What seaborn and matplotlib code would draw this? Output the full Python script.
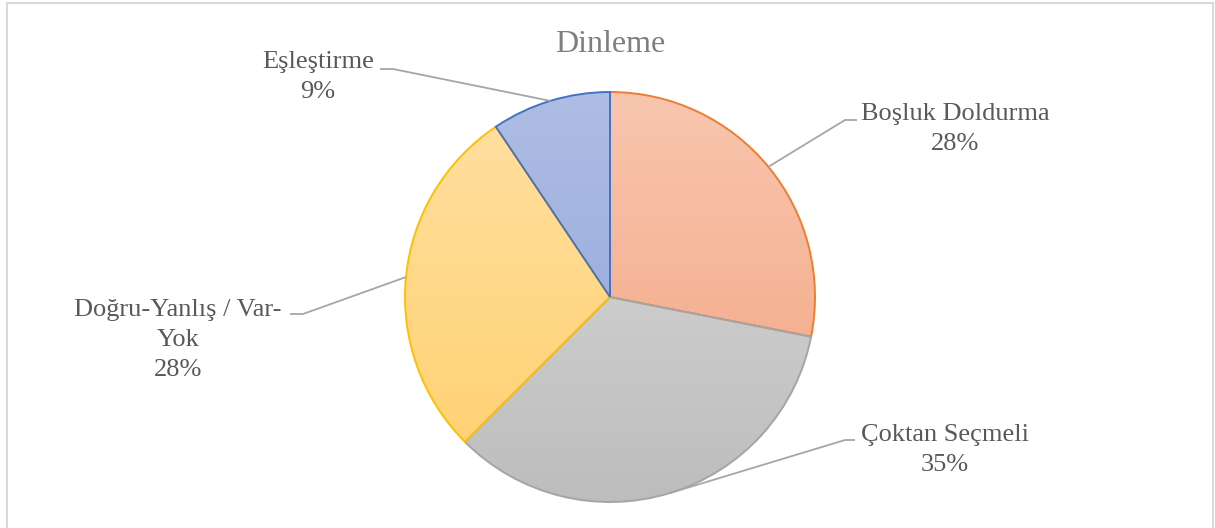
#!/usr/bin/env python3
"""Pie chart of listening question types (Dinleme)."""

import matplotlib

matplotlib.use("Agg")
import matplotlib.pyplot as plt
import numpy as np
import seaborn as sns
from matplotlib.colors import LinearSegmentedColormap
from matplotlib.patches import Rectangle

TITLE = "Dinleme"
CATEGORIES = ["Boşluk Doldurma", "Çoktan Seçmeli", "Doğru-Yanlış / Var-\nYok", "Eşleştirme"]
SHARES = [28.1, 34.4, 28.1, 9.4]
PCT_LABELS = ["28%", "35%", "28%", "9%"]

EDGE_COLORS = ["#ED7D31", "#A5A5A5", "#FFC000", "#4472C4"]
FILL_TOP = ["#F8C6AF", "#DBDBDB", "#FFE0A3", "#AFBDE4"]
FILL_BOTTOM = ["#F4A27E", "#BDBDBD", "#FFD06C", "#8BA3DA"]

# layout (pixel units, y measured from the bottom)
W, H = 1215, 528
CENTER = (610, 231)
RADIUS = 205
# elbow point, end of leader, text centre
LEADERS = [
    ((845, 408), (857, 408), (955, 399)),
    ((845, 88), (855, 88), (945, 78)),
    ((303, 214), (290, 214), (178, 188)),
    ((393, 459), (380, 459), (318, 451)),
]


def main() -> None:
    sns.set_theme(style="white")
    plt.rcParams["font.family"] = ["Liberation Serif", "DejaVu Serif"]

    fig = plt.figure(figsize=(W / 100, H / 100), dpi=100)
    ax = fig.add_axes([0, 0, 1, 1])

    wedges, _ = ax.pie(
        SHARES,
        startangle=90,
        counterclock=False,
        center=CENTER,
        radius=RADIUS,
        colors=["none"] * len(SHARES),
        wedgeprops=dict(linewidth=1.4),
    )

    y0, y1 = CENTER[1] - RADIUS, CENTER[1] + RADIUS
    x0, x1 = CENTER[0] - RADIUS, CENTER[0] + RADIUS
    grad = np.linspace(0, 1, 256).reshape(-1, 1)
    for wedge, edge, top, bottom in zip(wedges, EDGE_COLORS, FILL_TOP, FILL_BOTTOM):
        wedge.set_edgecolor(edge)
        wedge.set_zorder(3)
        cmap = LinearSegmentedColormap.from_list("g", [top, bottom])
        img = ax.imshow(
            grad,
            extent=(x0, x1, y0, y1),
            origin="upper",
            aspect="auto",
            cmap=cmap,
            zorder=2,
        )
        img.set_clip_path(wedge)

    text_color = "#595959"
    for wedge, name, pct, (elbow, end, pos) in zip(wedges, CATEGORIES, PCT_LABELS, LEADERS):
        mid = np.deg2rad((wedge.theta1 + wedge.theta2) / 2)
        start = (CENTER[0] + RADIUS * np.cos(mid), CENTER[1] + RADIUS * np.sin(mid))
        ax.plot(
            [start[0], elbow[0], end[0]],
            [start[1], elbow[1], end[1]],
            color="#A6A6A6",
            linewidth=1.3,
            zorder=4,
            solid_capstyle="butt",
        )
        ax.text(
            pos[0], pos[1], f"{name}\n{pct}",
            ha="center", va="center", fontsize=19, color=text_color,
            linespacing=1.46, zorder=5,
        )

    ax.text(610, 483, TITLE, ha="center", va="center", fontsize=23, color="#7F7F7F")

    ax.add_patch(
        Rectangle((6.5, -10), 1206, 535.5, fill=False, edgecolor="#D9D9D9",
                  linewidth=1.5, clip_on=False, zorder=1)
    )

    ax.set_xlim(0, W)
    ax.set_ylim(0, H)
    ax.set_aspect("auto")
    ax.axis("off")

    fig.savefig("out.png", dpi=100)
    plt.close(fig)


if __name__ == "__main__":
    main()
